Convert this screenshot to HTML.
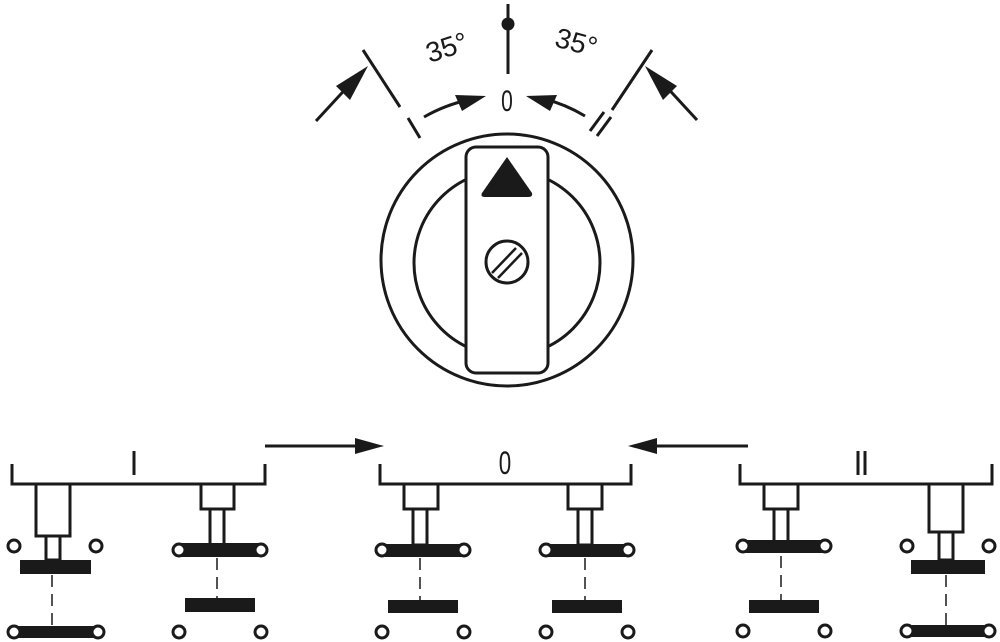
<!DOCTYPE html>
<html><head><style>html,body{margin:0;padding:0;background:#fff}svg{display:block}</style></head>
<body>
<svg width="1000" height="642" viewBox="0 0 1000 642" xmlns="http://www.w3.org/2000/svg">
<g stroke="#1a1a1a" stroke-width="3" fill="none" stroke-linecap="butt">
<line x1="508" y1="4" x2="508" y2="74"/>
<line x1="363" y1="50" x2="400" y2="107"/>
<line x1="408" y1="118" x2="420" y2="138"/>
<line x1="316" y1="121" x2="352" y2="82"/>
<path d="M424 117 Q445 105 468 100"/>
<line x1="652" y1="50" x2="612" y2="110"/>
<line x1="590" y1="131" x2="604" y2="112"/>
<line x1="597" y1="136" x2="611" y2="117"/>
<line x1="697" y1="120" x2="662" y2="82"/>
<path d="M585 116 Q565 104 544 99"/>
<circle cx="507" cy="260" r="126"/>
<circle cx="507" cy="263" r="93"/>
<rect x="466" y="147" width="82" height="226" rx="10" fill="#fff"/>
<circle cx="507" cy="262" r="21"/>
<line x1="492" y1="273" x2="516" y2="248" stroke-width="2.5"/>
<line x1="498" y1="278" x2="522" y2="253" stroke-width="2.5"/>
<line x1="265" y1="446" x2="362" y2="446"/>
<line x1="748" y1="446" x2="650" y2="446"/>
<path d="M12 464 V484 H265 V464"/>
<path d="M380 464 V484 H631 V464"/>
<path d="M740 464 V484 H992 V464"/>
<line x1="134" y1="451" x2="134" y2="475"/>
<line x1="858" y1="451" x2="858" y2="475"/>
<line x1="865" y1="451" x2="865" y2="475"/>
<rect x="36" y="484" width="34" height="52" fill="#fff"/>
<rect x="46" y="536" width="14" height="24"/>
<rect x="929" y="484" width="34" height="48" fill="#fff"/>
<rect x="939" y="532" width="14" height="28"/>
<rect x="201" y="484" width="33" height="25"/>
<rect x="210" y="509" width="14" height="36"/>
<rect x="404" y="484" width="34" height="25"/>
<rect x="413" y="509" width="14" height="36"/>
<rect x="568" y="484" width="34" height="25"/>
<rect x="578" y="509" width="14" height="36"/>
<rect x="764" y="484" width="34" height="25"/>
<rect x="774" y="509" width="14" height="33"/>
<g stroke-width="1.5" stroke-dasharray="12,7">
<line x1="52" y1="575" x2="52" y2="626"/>
<line x1="217" y1="558" x2="217" y2="598"/>
<line x1="420" y1="558" x2="420" y2="600"/>
<line x1="585" y1="558" x2="585" y2="600"/>
<line x1="781" y1="556" x2="781" y2="600"/>
<line x1="946" y1="575" x2="946" y2="626"/>
</g>
</g>
<g fill="#1a1a1a">
<circle cx="508" cy="24" r="6.5"/>
<polygon points="368,66 336,86 350,100"/>
<polygon points="486,96 455,95 462,111"/>
<polygon points="645,66 677,86 663,100"/>
<polygon points="526,96 557,95 550,111"/>
<polygon points="384,446 355,438 355,454"/>
<polygon points="628,446 657,438 657,454"/>
<path d="M507 157 L532 193 Q533 197 528 197 L485 197 Q480 197 482 193 Z"/>
<rect x="20" y="560" width="71" height="14"/>
<rect x="14" y="626" width="86" height="12"/>
<rect x="179" y="543" width="82" height="14"/>
<rect x="185" y="598" width="70" height="14"/>
<rect x="382" y="544" width="82" height="13"/>
<rect x="388" y="600" width="70" height="13"/>
<rect x="546" y="544" width="82" height="13"/>
<rect x="552" y="600" width="70" height="13"/>
<rect x="743" y="540" width="82" height="13"/>
<rect x="749" y="600" width="70" height="13"/>
<rect x="911" y="560" width="74" height="14"/>
<rect x="907" y="625" width="82" height="12"/>
</g>
<g stroke="#1a1a1a" stroke-width="3" fill="#fff">
<circle cx="14" cy="546" r="6"/><circle cx="96" cy="546" r="6"/>
<circle cx="14" cy="632" r="6"/><circle cx="98" cy="632" r="6"/>
<circle cx="179" cy="550" r="6"/><circle cx="261" cy="550" r="6"/>
<circle cx="179" cy="632" r="6"/><circle cx="261" cy="632" r="6"/>
<circle cx="382" cy="550" r="6"/><circle cx="464" cy="550" r="6"/>
<circle cx="382" cy="632" r="6"/><circle cx="464" cy="632" r="6"/>
<circle cx="546" cy="550" r="6"/><circle cx="628" cy="550" r="6"/>
<circle cx="546" cy="632" r="6"/><circle cx="628" cy="632" r="6"/>
<circle cx="743" cy="546" r="6"/><circle cx="825" cy="546" r="6"/>
<circle cx="743" cy="631" r="6"/><circle cx="825" cy="631" r="6"/>
<circle cx="907" cy="546" r="6"/><circle cx="989" cy="546" r="6"/>
<circle cx="907" cy="631" r="6"/><circle cx="989" cy="631" r="6"/>
</g>
<g font-family="Liberation Sans, sans-serif" fill="#1a1a1a">
<text x="0" y="0" font-size="30" text-anchor="middle" transform="translate(507,111) scale(0.7,1)">0</text>
<text x="0" y="0" font-size="32" text-anchor="middle" transform="translate(505,474) scale(0.7,1)">0</text>
<text x="446" y="57" font-size="28" text-anchor="middle" transform="rotate(-18 446 45)">35°</text>
<text x="577" y="52" font-size="28" text-anchor="middle" transform="rotate(15 577 40)">35°</text>
</g>
</svg>
</body></html>
